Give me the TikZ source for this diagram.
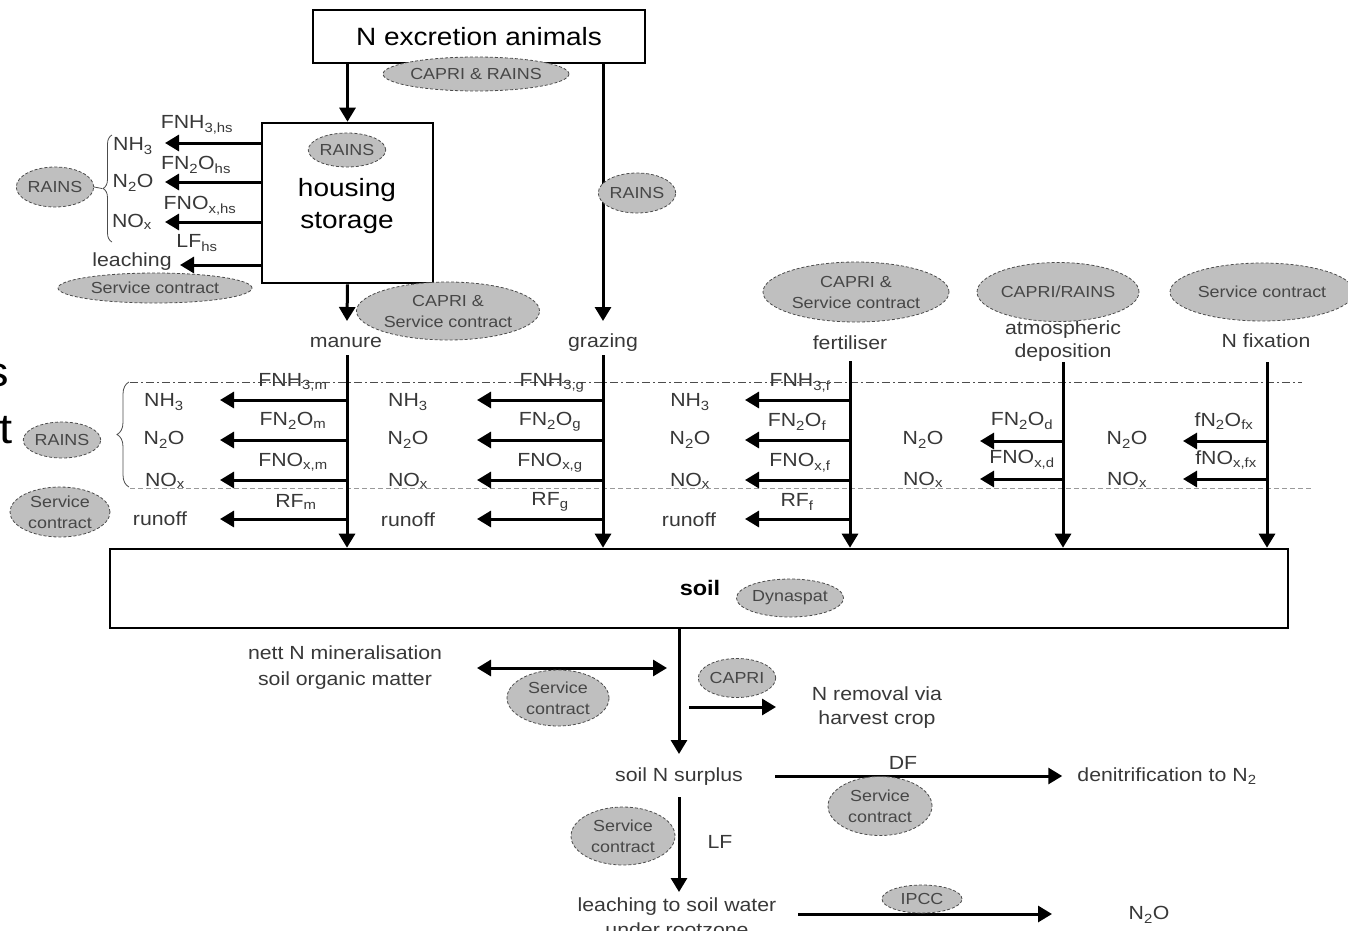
\documentclass[tikz,border=0pt]{standalone}
\usepackage{fontspec}
\setmainfont[FakeStretch=1.12]{Liberation Sans}
\usetikzlibrary{arrows.meta,shapes.geometric,decorations.pathreplacing}
\begin{document}
\begin{tikzpicture}[x=1pt,y=-1pt,
  ell/.style={ellipse,draw=black!70,dash pattern=on 3pt off 2pt,line width=0.8pt,fill=black!25,inner sep=0pt,text=black!72,align=center,font=\fontsize{16}{21}\selectfont},
  lbl/.style={inner sep=1pt,text=black!78,align=center,font=\fontsize{19}{24}\selectfont},
  bigbox/.style={draw,line width=2.6pt,fill=white,inner sep=0pt},
  arr/.style={line width=3pt,-{Triangle[length=14pt,width=16pt]}},
  darr/.style={line width=3pt,{Triangle[length=14pt,width=16pt]}-{Triangle[length=14pt,width=16pt]}},
  bracestyle/.style={decorate,line width=0.8pt,draw=black!70},
]
\useasboundingbox (0,0) rectangle (1348,930);

% partial large letters at left edge
\node[anchor=east,inner sep=0pt,font=\fontsize{42}{46}\selectfont] (bigs) at (9,375) {s};
\node[anchor=east,inner sep=0pt,font=\fontsize{42}{46}\selectfont] (bigt) at (13,430) {t};

% boxes
\node[bigbox,minimum width=332pt,minimum height=53pt,font=\fontsize{25}{30}\selectfont] (exc) at (479,36.5) {N excretion animals};
\node[bigbox,minimum width=171pt,minimum height=160pt] (hsbox) at (347.5,203) {};
\node[inner sep=0pt,align=center,font=\fontsize{25}{32}\selectfont] (hstext) at (347,206) {housing\\storage};
\node[bigbox,minimum width=1178pt,minimum height=79pt] (soil) at (699,588.5) {};
\node[inner sep=0pt,font=\bfseries\fontsize{21}{25}\selectfont] (soiltext) at (700,588) {soil};

% guide lines
\draw[black!70,line width=0.8pt,dash pattern=on 8pt off 3pt on 2pt off 3pt] (130,382) -- (1302,382);
\draw[black!40,line width=0.8pt,dash pattern=on 5pt off 3pt] (130,488) -- (1313,488);

% column labels
\node[lbl] (manure) at (346,342) {manure};
\node[lbl] (grazing) at (603,343) {grazing};
\node[lbl] (fert) at (850,343) {fertiliser};
\node[lbl,font=\fontsize{19}{23}\selectfont] (atm) at (1063,341) {atmospheric\\deposition};
\node[lbl] (nfix) at (1266,341) {N fixation};

% top arrows
\coordinate (mantip) at (347,321);
\coordinate (graztip) at (603,321);
\draw[arr] (hsbox.north |- exc.south) -- (hsbox.north);
\draw[arr] (graztip |- exc.south) -- (graztip);
\draw[arr] (hsbox.south) -- (mantip);

% housing emissions
\coordinate (h1) at (165,143);
\coordinate (h2) at (165,182);
\coordinate (h3) at (165,222);
\coordinate (h4) at (180,265);
\foreach \c in {h1,h2,h3,h4} \draw[arr] (\c -| hsbox.west) -- (\c);
\node[lbl] (fnh3hs) at (197,125) {FNH\textsubscript{3,hs}};
\node[lbl] (fn2ohs) at (196,165) {FN\textsubscript{2}O\textsubscript{hs}};
\node[lbl] (fnoxhs) at (200,206) {FNO\textsubscript{x,hs}};
\node[lbl] (lfhs) at (197,243) {LF\textsubscript{hs}};
\node[lbl] (nh3hs) at (133,146) {NH\textsubscript{3}};
\node[lbl] (n2ohs) at (133,183) {N\textsubscript{2}O};
\node[lbl] (noxhs) at (132,222) {NO\textsubscript{x}};
\node[lbl] (leach) at (132,262) {leaching};
\draw[bracestyle,decoration={brace,amplitude=9pt}] (112,242) -- (112,135);
\coordinate (btip1) at (102,188.5);

% columns down to soil
\coordinate (mtop) at (347,355);
\coordinate (gtop) at (603,355);
\coordinate (ftop) at (850,361);
\coordinate (atop) at (1063,362);
\coordinate (xtop) at (1267,362);
\foreach \c in {mtop,gtop,ftop,atop,xtop} \draw[arr] (\c) -- (\c |- soil.north);

% manure emissions
\coordinate (m1) at (220,400);
\coordinate (m2) at (220,440);
\coordinate (m3) at (220,480);
\coordinate (m4) at (220,519);
\foreach \c in {m1,m2,m3,m4} \draw[arr] (\c -| mtop) -- (\c);
\node[lbl] (fnh3m) at (293,382) {FNH\textsubscript{3,m}};
\node[lbl] (fn2om) at (293,421) {FN\textsubscript{2}O\textsubscript{m}};
\node[lbl] (fnoxm) at (293,462) {FNO\textsubscript{x,m}};
\node[lbl] (rfm) at (296,502) {RF\textsubscript{m}};
\node[lbl] (nh3m) at (164,402) {NH\textsubscript{3}};
\node[lbl] (n2om) at (164,440) {N\textsubscript{2}O};
\node[lbl] (noxm) at (165,481) {NO\textsubscript{x}};
\node[lbl] (runm) at (160,519) {runoff};
\draw[bracestyle,decoration={brace,amplitude=12pt}] (129,487) -- (129,382);

% grazing emissions
\coordinate (g1) at (477,400);
\coordinate (g2) at (477,440);
\coordinate (g3) at (477,480);
\coordinate (g4) at (477,519);
\foreach \c in {g1,g2,g3,g4} \draw[arr] (\c -| gtop) -- (\c);
\node[lbl] (fnh3g) at (552,383) {FNH\textsubscript{3,g}};
\node[lbl] (fn2og) at (550,422) {FN\textsubscript{2}O\textsubscript{g}};
\node[lbl] (fnoxg) at (550,463) {FNO\textsubscript{x,g}};
\node[lbl] (rfg) at (550,502) {RF\textsubscript{g}};
\node[lbl] (nh3g) at (408,402) {NH\textsubscript{3}};
\node[lbl] (n2og) at (408,440) {N\textsubscript{2}O};
\node[lbl] (noxg) at (408,481) {NO\textsubscript{x}};
\node[lbl] (rung) at (408,520) {runoff};

% fertiliser emissions
\coordinate (f1) at (745,400);
\coordinate (f2) at (745,440);
\coordinate (f3) at (745,480);
\coordinate (f4) at (745,519);
\foreach \c in {f1,f2,f3,f4} \draw[arr] (\c -| ftop) -- (\c);
\node[lbl] (fnh3f) at (800,383) {FNH\textsubscript{3,f}};
\node[lbl] (fn2of) at (797,422) {FN\textsubscript{2}O\textsubscript{f}};
\node[lbl] (fnoxf) at (800,463) {FNO\textsubscript{x,f}};
\node[lbl] (rff) at (797,502) {RF\textsubscript{f}};
\node[lbl] (nh3f) at (690,402) {NH\textsubscript{3}};
\node[lbl] (n2of) at (690,440) {N\textsubscript{2}O};
\node[lbl] (noxf) at (690,481) {NO\textsubscript{x}};
\node[lbl] (runf) at (689,520) {runoff};

% deposition emissions
\coordinate (a1) at (980,441);
\coordinate (a2) at (980,479);
\foreach \c in {a1,a2} \draw[arr] (\c -| atop) -- (\c);
\node[lbl] (fn2od) at (1022,421) {FN\textsubscript{2}O\textsubscript{d}};
\node[lbl] (fnoxd) at (1022,460) {FNO\textsubscript{x,d}};
\node[lbl] (n2od) at (923,440) {N\textsubscript{2}O};
\node[lbl] (noxd) at (923,480) {NO\textsubscript{x}};

% fixation emissions
\coordinate (x1) at (1183,441);
\coordinate (x2) at (1183,479);
\foreach \c in {x1,x2} \draw[arr] (\c -| xtop) -- (\c);
\node[lbl] (fn2ofx) at (1224,421) {fN\textsubscript{2}O\textsubscript{fx}};
\node[lbl] (fnoxfx) at (1226,460) {fNO\textsubscript{x,fx}};
\node[lbl] (n2ofx) at (1127,440) {N\textsubscript{2}O};
\node[lbl] (noxfx) at (1127,480) {NO\textsubscript{x}};

% below soil
\node[lbl,font=\fontsize{19}{26}\selectfont] (mineral) at (345,668) {nett N mineralisation\\soil organic matter};
\coordinate (minL) at (477,668);
\coordinate (minR) at (667,668);
\draw[darr] (minL) -- (minR);
\node[lbl] (surplus) at (679,777) {soil N surplus};
\coordinate (sdown) at (679,754);
\draw[arr] (sdown |- soil.south) -- (sdown);
\coordinate (nr1) at (689,707);
\coordinate (nr2) at (776,707);
\draw[arr] (nr1) -- (nr2);
\node[lbl] (nrem) at (877,708) {N removal via\\harvest crop};
\coordinate (df1) at (775,776);
\node[lbl] (denit) at (1167,776) {denitrification to N\textsubscript{2}};
\draw[arr] (df1) -- ([xshift=-14pt]denit.west);
\node[lbl] (dflab) at (903,763) {DF};
\coordinate (lf1) at (679,797);
\coordinate (lf2) at (679,892);
\node[lbl,font=\fontsize{19}{25}\selectfont] (leachw) at (677,917) {leaching to soil water\\under rootzone};
\draw[arr] (lf1) -- (lf2);
\node[lbl] (lflab) at (720,842) {LF};
\node[lbl] (n2oend) at (1149,915) {N\textsubscript{2}O};
\coordinate (ip1) at (798,914);
\coordinate (ip2) at (1052,914);
\draw[arr] (ip1) -- (ip2);

% model ellipses
\node[ell,minimum width=172pt,minimum height=34pt] (e1) at (476,74) {CAPRI \& RAINS};
\node[ell,minimum width=64pt,minimum height=34pt] (e2) at (347,150) {RAINS};
\node[ell,minimum width=66pt,minimum height=40pt] (e3) at (55,187) {RAINS};
\draw[line width=0.8pt,black!70] (e3.east) -- (btip1);
\node[ell,minimum width=194pt,minimum height=30pt] (e4) at (155,288) {Service contract};
\node[ell,minimum width=63pt,minimum height=40pt] (e5) at (637,193) {RAINS};
\node[ell,minimum width=183pt,minimum height=58pt] (e6) at (448,311) {CAPRI \&\\Service contract};
\node[ell,minimum width=186pt,minimum height=60pt] (e7) at (856,292) {CAPRI \&\\Service contract};
\node[ell,minimum width=140pt,minimum height=59pt] (e8) at (1058,292) {CAPRI/RAINS};
\node[ell,minimum width=184pt,minimum height=58pt] (e9) at (1262,292) {Service contract};
\node[ell,minimum width=64pt,minimum height=36pt] (e10) at (62,440) {RAINS};
\node[ell,minimum width=100pt,minimum height=50pt] (e11) at (60,512) {Service\\contract};
\node[ell,minimum width=100pt,minimum height=38pt] (e12) at (790,598) {Dynaspat};
\node[ell,minimum width=102pt,minimum height=56pt] (e13) at (558,698) {Service\\contract};
\node[ell,minimum width=76pt,minimum height=39pt] (e14) at (737,678) {CAPRI};
\node[ell,minimum width=104pt,minimum height=59pt] (e15) at (880,806) {Service\\contract};
\node[ell,minimum width=104pt,minimum height=58pt] (e16) at (623,836) {Service\\contract};
\node[ell,minimum width=80pt,minimum height=28pt] (e17) at (922,899) {IPCC};
\end{tikzpicture}
\end{document}
